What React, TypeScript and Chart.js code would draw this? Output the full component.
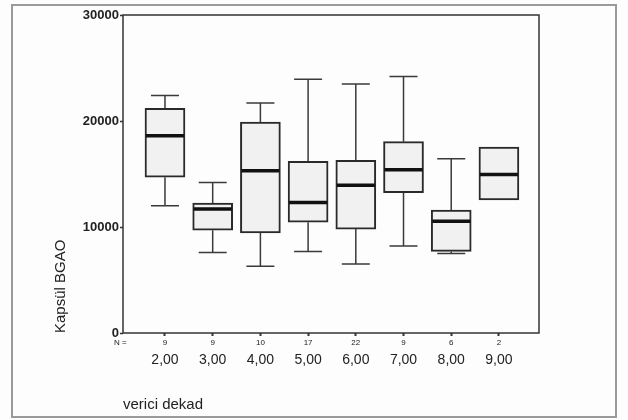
import React, { useEffect, useRef } from 'react';
import { Chart, registerables } from 'chart.js';

Chart.register(...registerables);

// ---- data ----
const categories = ['2,00', '3,00', '4,00', '5,00', '6,00', '7,00', '8,00', '9,00'];
const counts = [9, 9, 10, 17, 22, 9, 6, 2];
const lowWhisker: (number | null)[] = [12000, 7600, 6300, 7700, 6500, 8200, 7500, null];
const q1 = [14700, 9700, 9450, 10450, 9800, 13250, 7700, 12550];
const medians = [18600, 11700, 15300, 12300, 13950, 15400, 10550, 14950];
const q3 = [21200, 12250, 19900, 16200, 16300, 18050, 11600, 17550];
const highWhisker: (number | null)[] = [22400, 14200, 21700, 23950, 23500, 24200, 16450, null];
const yTickValues = [0, 10000, 20000, 30000];
const yTitle = 'Kapsül BGAO';
const xTitle = 'verici dekad';
const nLabel = 'N =';

const FONT = "'Liberation Sans', Arial, Helvetica, sans-serif";
const INK = '#222222';

export default function App() {
  const ref = useRef<HTMLCanvasElement>(null);

  useEffect(() => {
    if (!ref.current) return;

    const boxPlugin = {
      id: 'boxExtras',
      beforeDraw(chart: any) {
        const { ctx, width, height } = chart;
        ctx.save();
        ctx.fillStyle = '#fdfdfd';
        ctx.fillRect(0, 0, width, height);
        // outer frame of the figure
        ctx.strokeStyle = '#9a9a9a';
        ctx.lineWidth = 2;
        ctx.strokeRect(12, 5, 604, 412);
        ctx.restore();
      },
      afterDatasetsDraw(chart: any) {
        const { ctx, chartArea } = chart;
        const xs = chart.scales.x;
        const ys = chart.scales.y;
        ctx.save();
        // whiskers
        ctx.strokeStyle = '#3a3a3a';
        ctx.lineWidth = 1.5;
        const capHalf = 14;
        categories.forEach((_, i) => {
          const x = xs.getPixelForValue(i + 1);
          const hi = highWhisker[i];
          const lo = lowWhisker[i];
          if (hi != null) {
            const yq = ys.getPixelForValue(q3[i]);
            const yh = ys.getPixelForValue(hi);
            ctx.beginPath();
            ctx.moveTo(x, yq);
            ctx.lineTo(x, yh);
            ctx.moveTo(x - capHalf, yh);
            ctx.lineTo(x + capHalf, yh);
            ctx.stroke();
          }
          if (lo != null) {
            const yq = ys.getPixelForValue(q1[i]);
            const yl = ys.getPixelForValue(lo);
            ctx.beginPath();
            ctx.moveTo(x, yq);
            ctx.lineTo(x, yl);
            ctx.moveTo(x - capHalf, yl);
            ctx.lineTo(x + capHalf, yl);
            ctx.stroke();
          }
        });
        // medians
        ctx.strokeStyle = '#111111';
        ctx.lineWidth = 3.5;
        categories.forEach((_, i) => {
          const x = xs.getPixelForValue(i + 1);
          const y = ys.getPixelForValue(medians[i]);
          ctx.beginPath();
          ctx.moveTo(x - 19, y);
          ctx.lineTo(x + 19, y);
          ctx.stroke();
        });
        // plot frame
        ctx.strokeStyle = '#333333';
        ctx.lineWidth = 1.5;
        ctx.strokeRect(chartArea.left, chartArea.top, chartArea.right - chartArea.left, chartArea.bottom - chartArea.top);
        // "N =" label
        ctx.fillStyle = INK;
        ctx.font = `8px ${FONT}`;
        ctx.textAlign = 'left';
        ctx.textBaseline = 'middle';
        ctx.fillText(nLabel, 114, 343);
        ctx.restore();
      },
    };

    const chart = new Chart(ref.current, {
      type: 'bar',
      data: {
        datasets: [
          {
            data: categories.map((_, i) => ({ x: i + 1, y: [q1[i], q3[i]] })) as any,
            backgroundColor: '#f1f1f1',
            borderColor: '#2a2a2a',
            borderWidth: 2,
            borderSkipped: false,
            barThickness: 40,
          },
        ],
      },
      options: {
        responsive: false,
        animation: false,
        layout: { padding: { left: 0, top: 15, right: 89, bottom: 0 } },
        plugins: {
          legend: { display: false },
          tooltip: { enabled: false },
        },
        scales: {
          x: {
            type: 'linear',
            position: 'bottom',
            min: 0.12,
            max: 8.84,
            offset: false,
            weight: 1,
            afterBuildTicks: (scale: any) => {
              scale.ticks = categories.map((_, i) => ({ value: i + 1 }));
            },
            afterFit: (scale: any) => {
              scale.height = 18;
            },
            ticks: {
              autoSkip: false,
              maxRotation: 0,
              padding: 2,
              color: INK,
              font: { family: FONT, size: 8 },
              callback: (v: any) => String(counts[Number(v) - 1] ?? ''),
            },
            grid: {
              drawOnChartArea: false,
              tickLength: 3,
              tickWidth: 2,
              color: '#333333',
              offset: false,
            },
            border: { display: false },
          },
          x2: {
            type: 'linear',
            position: 'bottom',
            min: 0.12,
            max: 8.84,
            offset: false,
            weight: 2,
            afterBuildTicks: (scale: any) => {
              scale.ticks = categories.map((_, i) => ({ value: i + 1 }));
            },
            afterFit: (scale: any) => {
              scale.height = 69;
            },
            ticks: {
              autoSkip: false,
              maxRotation: 0,
              padding: 1,
              color: INK,
              font: { family: FONT, size: 14 },
              callback: (v: any) => categories[Number(v) - 1] ?? '',
            },
            grid: { display: false, drawTicks: false, offset: false },
            border: { display: false },
            title: {
              display: true,
              text: xTitle,
              align: 'start',
              color: INK,
              font: { family: FONT, size: 15 },
              padding: { top: 0, bottom: 6 },
            },
          },
          y: {
            type: 'linear',
            position: 'left',
            min: 0,
            max: 30000,
            afterBuildTicks: (scale: any) => {
              scale.ticks = yTickValues.map((v) => ({ value: v }));
            },
            afterFit: (scale: any) => {
              scale.width = 123;
            },
            ticks: {
              padding: 1,
              color: INK,
              font: { family: FONT, size: 13, weight: 'bold' },
              callback: (v: any) => String(v),
            },
            grid: {
              drawOnChartArea: false,
              tickLength: 3,
              tickWidth: 1.5,
              color: '#333333',
            },
            border: { display: false },
            title: {
              display: true,
              text: yTitle,
              align: 'start',
              color: INK,
              font: { family: FONT, size: 15 },
              padding: { top: 52, bottom: 0 },
            },
          },
        },
      } as any,
      plugins: [boxPlugin],
    });

    return () => chart.destroy();
  }, []);

  return (
    <div style={{ position: 'fixed', left: 0, top: 0, width: 628, height: 420, background: '#fdfdfd' }}>
      <canvas ref={ref} width={628} height={420} style={{ display: 'block', width: 628, height: 420 }} />
    </div>
  );
}
